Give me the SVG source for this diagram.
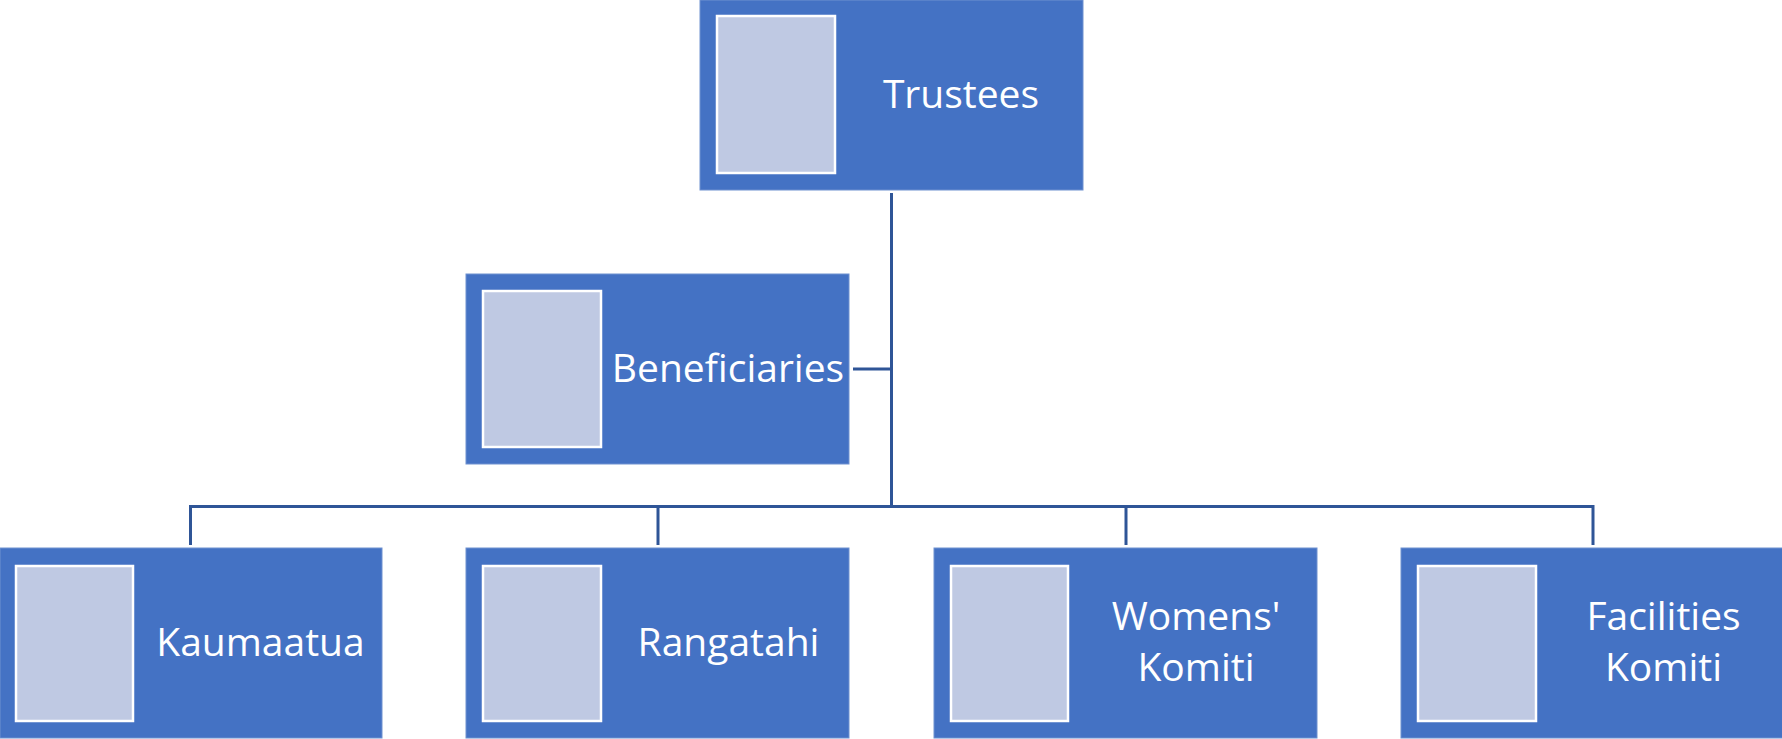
<svg xmlns="http://www.w3.org/2000/svg" width="1782" height="739" viewBox="0 0 1782 739">
  <style>
    .box { fill: #4472C4; stroke: #6F91D0; stroke-width: 1; }
    .pic { fill: #BFC9E3; stroke: #FFFFFF; stroke-width: 2.5; }
    .lbl { font-family: "Open Sans", "Noto Sans", sans-serif; font-size: 39px; fill: #FFFFFF; text-anchor: middle; }
    .conn { fill: none; stroke: #2F5597; stroke-width: 3; }
  </style>
  <rect width="1782" height="739" fill="#FFFFFF"/>
  <g id="connectors">
    <path class="conn" d="M891.5 193 V506.5"/>
    <path class="conn" d="M853 369 H891.5"/>
    <path class="conn" d="M190.5 545 V506.5 H1593 V545"/>
    <path class="conn" d="M658 506.5 V545"/>
    <path class="conn" d="M1126 506.5 V545"/>
  </g>
  <g id="trustees">
    <rect class="box" x="700" y="0" width="383" height="190"/>
    <rect class="pic" x="717" y="16" width="118" height="157"/>
    <text class="lbl" x="961" y="108">Trustees</text>
  </g>
  <g id="beneficiaries">
    <rect class="box" x="466" y="274" width="383" height="190"/>
    <rect class="pic" x="483" y="291" width="118" height="156"/>
    <text class="lbl" x="728" y="382">Beneficiaries</text>
  </g>
  <g id="kaumaatua">
    <rect class="box" x="0" y="548" width="382" height="190"/>
    <rect class="pic" x="16" y="566" width="117" height="155"/>
    <text class="lbl" x="260.5" y="656">Kaumaatua</text>
  </g>
  <g id="rangatahi">
    <rect class="box" x="466" y="548" width="383" height="190"/>
    <rect class="pic" x="483" y="566" width="118" height="155"/>
    <text class="lbl" x="728.5" y="656">Rangatahi</text>
  </g>
  <g id="womens-komiti">
    <rect class="box" x="934" y="548" width="383" height="190"/>
    <rect class="pic" x="951" y="566" width="117" height="155"/>
    <text class="lbl" x="1196" y="630">Womens'</text>
    <text class="lbl" x="1196" y="681">Komiti</text>
  </g>
  <g id="facilities-komiti">
    <rect class="box" x="1401" y="548" width="383" height="190"/>
    <rect class="pic" x="1418" y="566" width="118" height="155"/>
    <text class="lbl" x="1663.5" y="630">Facilities</text>
    <text class="lbl" x="1663.5" y="681">Komiti</text>
  </g>
</svg>
